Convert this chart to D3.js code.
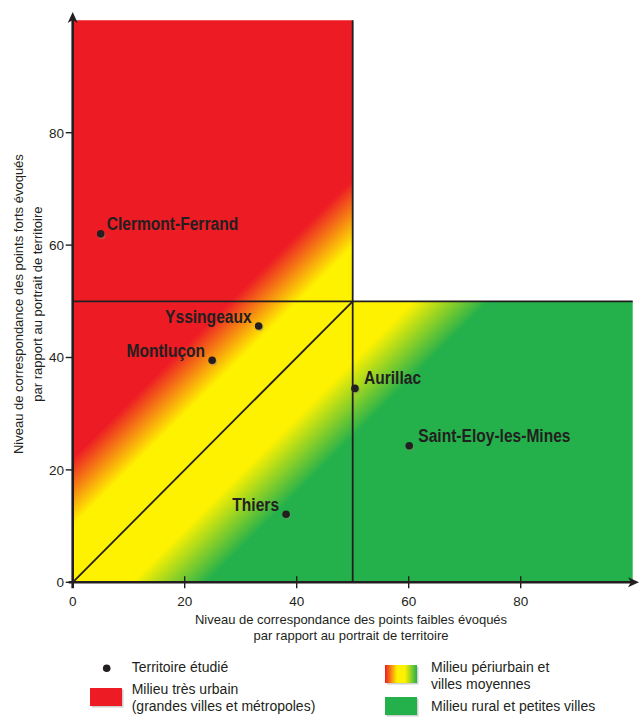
<!DOCTYPE html>
<html>
<head>
<meta charset="utf-8">
<script src="https://cdn.jsdelivr.net/npm/d3@7"></script>
<style>
  html, body { margin: 0; padding: 0; background: #fff; }
  svg { display: block; }
  text { font-family: "Liberation Sans", Arial, sans-serif; fill: #231f20; }
</style>
</head>
<body>
<svg id="chart" width="639" height="717"></svg>
<script>
// ---- Data ----
const territoires = ["Clermont-Ferrand", "Yssingeaux", "Montluçon", "Thiers", "Aurillac", "Saint-Eloy-les-Mines"];
const pointsFaibles = [5, 33.2, 24.9, 38.1, 50.4, 60.1];   // x
const pointsForts   = [62, 45.6, 39.5, 12.1, 34.5, 24.3];  // y
const labelSide = ["right", "left", "left", "left", "right", "right"];
const xTicks = [0, 20, 40, 60, 80];
const yTicks = [0, 20, 40, 60, 80];
const xTitle = ["Niveau de correspondance des points faibles évoqués", "par rapport au portrait de territoire"];
const yTitle = ["Niveau de correspondance des points forts évoqués", "par rapport au portrait de territoire"];
const legendItems = [
  ["Territoire étudié"],
  ["Milieu très urbain", "(grandes villes et métropoles)"],
  ["Milieu périurbain et", "villes moyennes"],
  ["Milieu rural et petites villes"]
];
// zone limits along d = y - x
const zoneStops = [25, 22, 10, -10.5, -24, -25];

const RED = "#ed1c24", YEL = "#fff200", GRN = "#24b14b", INK = "#231f20";

const svg = d3.select("#chart");
const x = d3.scaleLinear().domain([0, 100]).range([72.7, 632.7]);
const y = d3.scaleLinear().domain([0, 100]).range([582.3, 20.3]);

const defs = svg.append("defs");
// diagonal gradient, perpendicular to y = x
const dScale = d3.scaleLinear().domain([25, -25]).range([0, 1]);
const grad = defs.append("linearGradient").attr("id", "zoneGrad")
  .attr("gradientUnits", "userSpaceOnUse")
  .attr("x1", x(0)).attr("y1", y(25)).attr("x2", x(25)).attr("y2", y(0));
const stopCols = [RED, RED, YEL, YEL, GRN, GRN];
zoneStops.forEach((d, i) => grad.append("stop").attr("offset", dScale(d)).attr("stop-color", stopCols[i]));

const lg = defs.append("linearGradient").attr("id", "legGrad");
[[0, RED], [0.38, YEL], [0.62, YEL], [1, GRN]].forEach(s =>
  lg.append("stop").attr("offset", s[0]).attr("stop-color", s[1]));

// zones (L-shape)
const zonePts = [[0, 0], [0, 100], [50, 100], [50, 50], [100, 50], [100, 0]];
svg.append("path")
  .attr("d", d3.line().x(d => x(d[0])).y(d => y(d[1]))(zonePts) + "Z")
  .attr("fill", "url(#zoneGrad)");

// inner lines
const lines = [
  [[50, 0], [50, 100]],
  [[0, 50], [100, 50]],
  [[0, 0], [50, 50]]
];
svg.selectAll("line.inner").data(lines).join("line").attr("class", "inner")
  .attr("x1", d => x(d[0][0])).attr("y1", d => y(d[0][1]))
  .attr("x2", d => x(d[1][0])).attr("y2", d => y(d[1][1]))
  .attr("stroke", INK).attr("stroke-width", 1.8);

// axes
const axisG = svg.append("g");
axisG.append("line").attr("x1", x(0) - 4).attr("x2", 634).attr("y1", y(0)).attr("y2", y(0))
  .attr("stroke", INK).attr("stroke-width", 2.6);
axisG.append("line").attr("x1", x(0)).attr("x2", x(0)).attr("y1", y(0) + 6).attr("y2", 16)
  .attr("stroke", INK).attr("stroke-width", 2.6);
// arrow heads
axisG.append("path").attr("d", `M${x(0)},12 L${x(0) - 5},23 L${x(0)},20 L${x(0) + 5},23 Z`).attr("fill", INK);
axisG.append("path").attr("d", `M639,${y(0)} L628,${y(0) - 5} L631,${y(0)} L628,${y(0) + 5} Z`).attr("fill", INK);

// x ticks
svg.append("g").selectAll("line").data(xTicks.filter(t => t > 0)).join("line")
  .attr("x1", d => x(d)).attr("x2", d => x(d)).attr("y1", y(0) - 6).attr("y2", y(0) + 6)
  .attr("stroke", INK).attr("stroke-width", 1.4);
svg.append("g").selectAll("text").data(xTicks).join("text")
  .attr("x", d => x(d)).attr("y", 606).attr("text-anchor", "middle")
  .attr("font-size", 13.5).text(d => d);
// y ticks
svg.append("g").selectAll("line").data(yTicks).join("line")
  .attr("x1", x(0) - 7).attr("x2", x(0)).attr("y1", d => y(d)).attr("y2", d => y(d))
  .attr("stroke", INK).attr("stroke-width", 1.4);
svg.append("g").selectAll("text").data(yTicks).join("text")
  .attr("x", 64).attr("y", d => y(d) + 4.8).attr("text-anchor", "end")
  .attr("font-size", 13.5).text(d => d);

// axis titles
svg.append("g").selectAll("text").data(xTitle).join("text")
  .attr("x", 351).attr("y", (d, i) => 624 + i * 16).attr("text-anchor", "middle")
  .attr("font-size", 13).text(d => d);
svg.append("g").attr("transform", `translate(0,${y(49.5)})`)
  .selectAll("text").data(yTitle).join("text")
  .attr("transform", (d, i) => `translate(${23 + i * 19},0) rotate(-90)`)
  .attr("text-anchor", "middle").attr("font-size", 13).text(d => d);

// points
const pts = territoires.map((n, i) => ({ n, x: pointsFaibles[i], y: pointsForts[i], side: labelSide[i] }));
const pg = svg.append("g").selectAll("g").data(pts).join("g")
  .attr("transform", d => `translate(${x(d.x)},${y(d.y)})`);
pg.append("circle").attr("cx", 1).attr("cy", 1.3).attr("r", 3.9).attr("fill", "#8a8a6a").attr("opacity", 0.45);
pg.append("circle").attr("r", 3.8).attr("fill", INK);
pg.append("text")
  .attr("transform", d => d.side === "right" ? `translate(${d.n === "Clermont-Ferrand" ? 6 : 9},-4) scale(0.82,1)` : `translate(-7,-3.5) scale(0.82,1)`)
  .attr("text-anchor", d => d.side === "right" ? "start" : "end")
  .attr("font-size", 19).attr("font-weight", "bold").text(d => d.n);

// legend
const leg = svg.append("g");
leg.append("circle").attr("cx", 107.5).attr("cy", 669).attr("r", 1).attr("fill", "#999");
leg.append("circle").attr("cx", 106.7).attr("cy", 668.3).attr("r", 3.8).attr("fill", INK);
const swatches = [[90, 688, RED], [385, 665, "url(#legGrad)"], [385, 697, GRN]];
swatches.forEach(s => {
  leg.append("rect").attr("x", s[0] + 1.5).attr("y", s[1] + 1.5).attr("width", 32).attr("height", 18).attr("fill", "#cfcfcf");
  leg.append("rect").attr("x", s[0]).attr("y", s[1]).attr("width", 32).attr("height", 18).attr("fill", s[2]);
});
const legPos = [[131.7, 672.3], [131.7, 694.3], [431, 672.3], [431, 711]];
legendItems.forEach((lines, i) => {
  lines.forEach((t, j) => {
    leg.append("text").attr("x", legPos[i][0]).attr("y", legPos[i][1] + j * 16.7)
      .attr("font-size", 14).text(t);
  });
});
</script>
</body>
</html>
